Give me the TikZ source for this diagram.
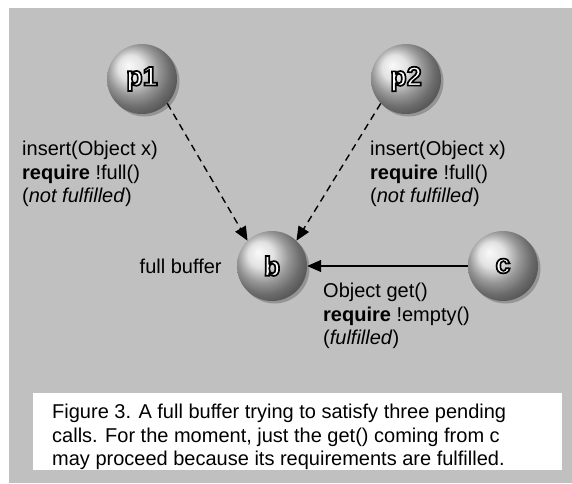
\documentclass[tikz,border=0pt]{standalone}
\usepackage{fontspec}
\setmainfont{Liberation Sans}
\usetikzlibrary{positioning,arrows.meta,shadows}

\definecolor{bggray}{RGB}{192,192,192}
% white letters with a black outline (text render mode 2)
\newcommand{\outlined}[1]{\special{pdf:literal direct 2 Tr 1.7 w 0 G}#1\special{pdf:literal direct 0 Tr}}

\begin{document}
\begin{tikzpicture}[x=1pt, y=-1pt, node distance=15pt,
    >={Triangle[length=14pt,width=12pt]},
    ball/.style={circle, minimum size=70pt, inner sep=0pt, ball color=black!15,
        text=white, font=\fontsize{27}{27}\selectfont\bfseries,
        drop shadow={shadow xshift=2.5pt, shadow yshift=-2.5pt, fill=black!42, opacity=1}},
    lbl/.style={align=left, anchor=north west, inner sep=0pt,
        font=\fontsize{20}{23.5}\selectfont},
    call/.style={->, line width=1.4pt}]

    % frame and caption box
    \fill[white] (0,0) rectangle (572,483);
    \fill[bggray] (9,8) rectangle (572,483);
    \fill[white] (33,393) rectangle (562,470);

    \node[ball] (p1) at (142,79) {\outlined{p1}};
    \node[ball] (p2) at (406,79) {\outlined{p2}};
    \node[ball] (b) at (272,266) {\outlined{b}};
    \node[ball] (c) at (503,266) {\outlined{c}};

    \path[call]
        (p1.-44) edge[dash pattern=on 7pt off 5pt] (b.134)
        (p2.-136) edge[dash pattern=on 7pt off 5pt] (b.46)
        (c) edge (b);

    \node[lbl] (put1) at (22,141) {insert(Object x)\\\textbf{require} !full()\\(\textit{not fulfilled})};
    \node[lbl] (put2) at (370,141) {insert(Object x)\\\textbf{require} !full()\\(\textit{not fulfilled})};
    \node[lbl, anchor=east] (state) [left=of b] {full buffer};
    \node[lbl] (get) at (323,283) {Object get()\\\textbf{require} !empty()\\(\textit{fulfilled})};

    \node[lbl] (caption) at (52,404) {Figure 3. A full buffer trying to satisfy three pending\\calls. For the moment, just the get() coming from c\\may proceed because its requirements are fulfilled.};

\end{tikzpicture}
\end{document}
